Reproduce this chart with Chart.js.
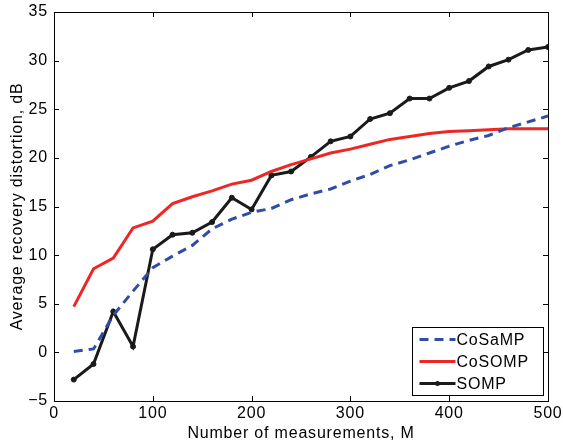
<!DOCTYPE html>
<html>
<head>
<meta charset="utf-8">
<script src="https://cdn.jsdelivr.net/npm/chart.js@4.4.0/dist/chart.umd.min.js"></script>
<style>
  body { margin: 0; background: #fff; }
  #wrap { width: 563px; height: 445px; }
</style>
</head>
<body>
<div id="wrap"><canvas id="distChart"></canvas></div>
<script>
const mValues = [20, 40, 60, 80, 100, 120, 140, 160, 180, 200, 220, 240, 260,
  280, 300, 320, 340, 360, 380, 400, 420, 440, 460, 480, 500];
const cosamp = [0.1, 0.35, 3.8, 6.3, 8.7, 9.9, 11.0, 12.7, 13.7, 14.4, 14.8, 15.7, 16.3,
  16.8, 17.6, 18.3, 19.2, 19.8, 20.5, 21.2, 21.8, 22.3, 23.1, 23.7, 24.3];
const cosomp = [4.7, 8.6, 9.7, 12.8, 13.5, 15.3, 16.0, 16.6, 17.3, 17.7, 18.6, 19.3, 19.9,
  20.5, 20.9, 21.4, 21.9, 22.2, 22.5, 22.7, 22.8, 22.9, 23.0, 23.0, 23.0];
const somp = [-2.8, -1.2, 4.2, 0.6, 10.6, 12.1, 12.3, 13.4, 15.9, 14.7, 18.2, 18.6, 20.1,
  21.7, 22.2, 24.0, 24.6, 26.1, 26.1, 27.2, 27.9, 29.4, 30.1, 31.1, 31.4];
const xTicks = [0, 100, 200, 300, 400, 500];
const yTicks = [-5, 0, 5, 10, 15, 20, 25, 30, 35];

const FONT = "'Liberation Sans', Arial, sans-serif";

function pts(ys) {
  return mValues.map((m, i) => ({ x: m, y: ys[i] }));
}

// helvetica in the original is a bit wider than liberation sans
const spacing = {
  id: 'spacing',
  beforeUpdate(chart) { chart.ctx.letterSpacing = '0.8px'; },
  beforeDraw(chart) { chart.ctx.letterSpacing = '0.8px'; }
};

// matlab style box, inward ticks and legend inside the axes
const matlabAxes = {
  id: 'matlabAxes',
  afterDraw(chart) {
    const ctx = chart.ctx;
    const a = chart.chartArea;
    const xs = chart.scales.x, ys = chart.scales.y;
    ctx.save();
    ctx.strokeStyle = '#000';
    ctx.lineWidth = 1;
    ctx.beginPath();
    xTicks.forEach(v => {
      const px = Math.round(xs.getPixelForValue(v)) + 0.5;
      ctx.moveTo(px, a.bottom); ctx.lineTo(px, a.bottom - 5);
      ctx.moveTo(px, a.top); ctx.lineTo(px, a.top + 5);
    });
    yTicks.forEach(v => {
      const py = Math.round(ys.getPixelForValue(v)) + 0.5;
      ctx.moveTo(a.left, py); ctx.lineTo(a.left + 5, py);
      ctx.moveTo(a.right, py); ctx.lineTo(a.right - 5, py);
    });
    ctx.stroke();
    ctx.strokeRect(Math.round(a.left) + 0.5, Math.round(a.top) + 0.5,
      Math.round(a.right - a.left), Math.round(a.bottom - a.top));

    // legend
    const lw = 131, lh = 68;
    const lx = Math.round(a.right) - 136 + 0.5, ly = Math.round(a.bottom) - 74 + 0.5;
    ctx.fillStyle = '#fff';
    ctx.fillRect(lx, ly, lw, lh);
    ctx.strokeRect(lx, ly, lw, lh);
    ctx.font = '16px ' + FONT;
    ctx.letterSpacing = '0.8px';
    ctx.textBaseline = 'middle';
    chart.data.datasets.forEach((ds, i) => {
      const cy = ly + 12 + i * 22;
      ctx.beginPath();
      ctx.strokeStyle = ds.borderColor;
      ctx.lineWidth = ds.borderWidth;
      ctx.setLineDash(ds.borderDash || []);
      ctx.moveTo(lx + 7, cy);
      ctx.lineTo(lx + 43, cy);
      ctx.stroke();
      ctx.setLineDash([]);
      if (ds.pointRadius > 0) {
        ctx.fillStyle = ds.borderColor;
        ctx.beginPath();
        ctx.arc(lx + 25, cy, ds.pointRadius, 0, Math.PI * 2);
        ctx.fill();
      }
      ctx.fillStyle = '#000';
      ctx.fillText(ds.label, lx + 44, cy + 1);
    });
    ctx.restore();
  }
};

new Chart(document.getElementById('distChart'), {
  type: 'line',
  data: {
    datasets: [
      {
        label: 'CoSaMP',
        data: pts(cosamp),
        borderColor: '#2f4da6',
        borderWidth: 3,
        borderDash: [9, 6],
        pointRadius: 0
      },
      {
        label: 'CoSOMP',
        data: pts(cosomp),
        borderColor: '#ee2624',
        borderWidth: 3,
        pointRadius: 0
      },
      {
        label: 'SOMP',
        data: pts(somp),
        borderColor: '#1a1a1a',
        backgroundColor: '#1a1a1a',
        borderWidth: 3,
        pointRadius: 2.5,
        pointBorderWidth: 1,
        pointStyle: 'circle'
      }
    ]
  },
  options: {
    responsive: true,
    maintainAspectRatio: false,
    animation: false,
    events: [],
    layout: { padding: { top: 12, right: 15, left: 0, bottom: 2 } },
    plugins: {
      legend: { display: false },
      tooltip: { enabled: false }
    },
    scales: {
      x: {
        type: 'linear',
        min: 0,
        max: 500,
        grid: { display: false, drawTicks: false, tickLength: 0 },
        border: { display: false },
        afterFit(s) {
          s.height = 42;
          s.paddingLeft = 0;
          s.paddingRight = 0;
        },
        afterBuildTicks(s) { s.ticks = xTicks.map(v => ({ value: v })); },
        ticks: { color: '#000', padding: 3, maxRotation: 0, font: { family: FONT, size: 16 } },
        title: {
          display: true,
          text: 'Number of measurements, M',
          color: '#000',
          padding: { top: 0, bottom: 0 },
          font: { family: FONT, size: 16 }
        }
      },
      y: {
        min: -5,
        max: 35,
        grid: { display: false, drawTicks: false, tickLength: 0 },
        border: { display: false },
        afterFit(s) {
          s.width = 54;
          s.paddingTop = 0;
          s.paddingBottom = 0;
        },
        afterBuildTicks(s) { s.ticks = yTicks.map(v => ({ value: v })); },
        ticks: {
          color: '#000',
          padding: 6,
          font: { family: FONT, size: 16 },
          callback: v => String(v).replace('-', '\u2212')
        },
        title: {
          display: true,
          text: 'Average recovery distortion, dB',
          color: '#000',
          padding: { top: 8, bottom: 0 },
          font: { family: FONT, size: 16 }
        }
      }
    }
  },
  plugins: [spacing, matlabAxes]
});
</script>
</body>
</html>
